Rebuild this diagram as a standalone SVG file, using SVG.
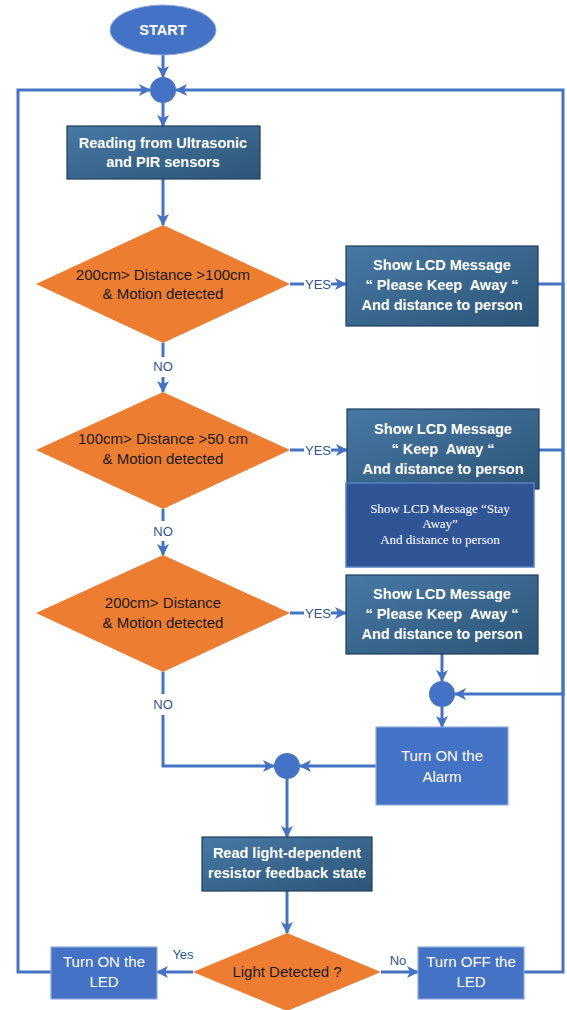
<svg xmlns="http://www.w3.org/2000/svg" width="567" height="1010" viewBox="0 0 567 1010">
<style>
.conn{fill:none;stroke:#4472C4;stroke-width:3}
.dark{fill:url(#dg);stroke:#1F3C5C;stroke-width:1.2}
.blue{fill:#4472C4;stroke:#8FAADC;stroke-width:1.2}
.dia{fill:#ED7D31}
.jn{fill:#4472C4}
.bt{font-family:"Liberation Sans",Arial,sans-serif;font-weight:bold;font-size:14.5px;fill:#FFFFFF;text-anchor:middle;white-space:pre}
.wt{font-family:"Liberation Sans",Arial,sans-serif;font-size:15px;fill:#FFFFFF;text-anchor:middle}
.dt{font-family:"Liberation Sans",Arial,sans-serif;font-size:15px;fill:#1A1A1A;text-anchor:middle}
.lb{font-family:"Liberation Sans",Arial,sans-serif;font-size:13px;fill:#2F5597;text-anchor:middle}
.tt{font-family:"Liberation Serif","Times New Roman",serif;font-size:13px;fill:#FFFFFF;text-anchor:middle}
</style>
<defs>
<linearGradient id="dg" x1="0" y1="0" x2="1" y2="1">
<stop offset="0" stop-color="#4878A5"/>
<stop offset="1" stop-color="#2C5677"/>
</linearGradient>
<marker id="ah" viewBox="0 0 12 12" refX="11" refY="6" markerWidth="12" markerHeight="12" markerUnits="userSpaceOnUse" orient="auto">
<path d="M0,0 L12,6 L0,12 L3,6 z" fill="#4472C4"/>
</marker>
</defs>

<g id="connectors">
<path class="conn" d="M163,55 V77" marker-end="url(#ah)"/>
<path class="conn" d="M163,103 V126" marker-end="url(#ah)"/>
<path class="conn" d="M163,179 V225" marker-end="url(#ah)"/>
<path class="conn" d="M290,284 H304"/>
<path class="conn" d="M331,284 H346" marker-end="url(#ah)"/>
<path class="conn" d="M163,343 V357"/>
<path class="conn" d="M163,377 V392" marker-end="url(#ah)"/>
<path class="conn" d="M290,450 H304"/>
<path class="conn" d="M331,450 H347" marker-end="url(#ah)"/>
<path class="conn" d="M163,509 V521"/>
<path class="conn" d="M163,541 V555" marker-end="url(#ah)"/>
<path class="conn" d="M290,613 H304"/>
<path class="conn" d="M331,613 H346" marker-end="url(#ah)"/>
<path class="conn" d="M163,672 V694"/>
<path class="conn" d="M163,715 V766 H274" marker-end="url(#ah)"/>
<path class="conn" d="M442,654 V681" marker-end="url(#ah)"/>
<path class="conn" d="M442,707 V727" marker-end="url(#ah)"/>
<path class="conn" d="M538,284 H563 V694 H455" marker-end="url(#ah)"/>
<path class="conn" d="M539,450 H563"/>
<path class="conn" d="M376,766 H300" marker-end="url(#ah)"/>
<path class="conn" d="M287,779 V837" marker-end="url(#ah)"/>
<path class="conn" d="M287,891 V933" marker-end="url(#ah)"/>
<path class="conn" d="M193,972 H157" marker-end="url(#ah)"/>
<path class="conn" d="M381,972 H418" marker-end="url(#ah)"/>
<path class="conn" d="M51,972 H18 V90 H150" marker-end="url(#ah)"/>
<path class="conn" d="M524,972 H563 V90 H176" marker-end="url(#ah)"/>
<text class="lb" x="318" y="289">YES</text>
<text class="lb" x="318" y="455">YES</text>
<text class="lb" x="318" y="618">YES</text>
<text class="lb" x="163" y="371">NO</text>
<text class="lb" x="163" y="536">NO</text>
<text class="lb" x="163" y="709">NO</text>
<text class="lb" x="183" y="959">Yes</text>
<text class="lb" x="398" y="965">No</text>
</g>

<g id="start">
<ellipse cx="163" cy="30" rx="53" ry="25" fill="#4472C4" stroke="#8FAADC" stroke-width="1"/>
<text class="bt" x="163" y="35">START</text>
</g>

<g id="junction-top"><circle class="jn" cx="163" cy="90" r="13"/></g>

<g id="read-sensors">
<rect class="dark" x="67" y="126" width="193" height="53"/>
<text class="bt" x="163" y="148">Reading from Ultrasonic</text>
<text class="bt" x="163" y="167">and PIR sensors</text>
</g>

<g id="decision-1">
<polygon class="dia" points="163,225 290,284 163,343 36,284"/>
<text class="dt" x="163" y="280">200cm&gt; Distance &gt;100cm</text>
<text class="dt" x="163" y="299">&amp; Motion detected</text>
</g>

<g id="lcd-1">
<rect class="dark" x="346" y="246" width="192" height="80"/>
<text class="bt" x="442" y="270">Show LCD Message</text>
<text class="bt" x="442" y="290" xml:space="preserve">“ Please Keep  Away “</text>
<text class="bt" x="442" y="310">And distance to person</text>
</g>

<g id="decision-2">
<polygon class="dia" points="163,392 290,450 163,509 36,450"/>
<text class="dt" x="163" y="444">100cm&gt; Distance &gt;50 cm</text>
<text class="dt" x="163" y="464">&amp; Motion detected</text>
</g>

<g id="lcd-2">
<rect class="dark" x="347" y="409" width="192" height="80"/>
<text class="bt" x="443" y="434">Show LCD Message</text>
<text class="bt" x="443" y="454" xml:space="preserve">“ Keep  Away “</text>
<text class="bt" x="443" y="474">And distance to person</text>
</g>

<g id="lcd-stay">
<rect x="346" y="483" width="188" height="84" fill="#2F5597" stroke="#5B80C4" stroke-width="1.5"/>
<text class="tt" x="440" y="513">Show LCD Message “Stay</text>
<text class="tt" x="440" y="528">Away”</text>
<text class="tt" x="440" y="544">And distance to person</text>
</g>

<g id="decision-3">
<polygon class="dia" points="163,555 290,613 163,672 36,613"/>
<text class="dt" x="163" y="608">200cm&gt; Distance</text>
<text class="dt" x="163" y="628">&amp; Motion detected</text>
</g>

<g id="lcd-3">
<rect class="dark" x="346" y="575" width="192" height="79"/>
<text class="bt" x="442" y="599">Show LCD Message</text>
<text class="bt" x="442" y="619" xml:space="preserve">“ Please Keep  Away “</text>
<text class="bt" x="442" y="639">And distance to person</text>
</g>

<g id="junction-alarm"><circle class="jn" cx="442" cy="694" r="13"/></g>

<g id="alarm">
<rect class="blue" x="376" y="727" width="132" height="78"/>
<text class="wt" x="442" y="761">Turn ON the</text>
<text class="wt" x="442" y="782">Alarm</text>
</g>

<g id="junction-mid"><circle class="jn" cx="287" cy="766" r="13"/></g>

<g id="read-ldr">
<rect class="dark" x="202" y="837" width="170" height="54"/>
<text class="bt" x="287" y="858">Read light-dependent</text>
<text class="bt" x="287" y="878">resistor feedback state</text>
</g>

<g id="decision-light">
<polygon class="dia" points="287,933 381,972 287,1011 193,972"/>
<text class="dt" x="287" y="977">Light Detected ?</text>
</g>

<g id="led-on">
<rect class="blue" x="51" y="947" width="106" height="52"/>
<text class="wt" x="104" y="967">Turn ON the</text>
<text class="wt" x="104" y="987">LED</text>
</g>

<g id="led-off">
<rect class="blue" x="418" y="947" width="106" height="52"/>
<text class="wt" x="471" y="967">Turn OFF the</text>
<text class="wt" x="471" y="987">LED</text>
</g>
</svg>
